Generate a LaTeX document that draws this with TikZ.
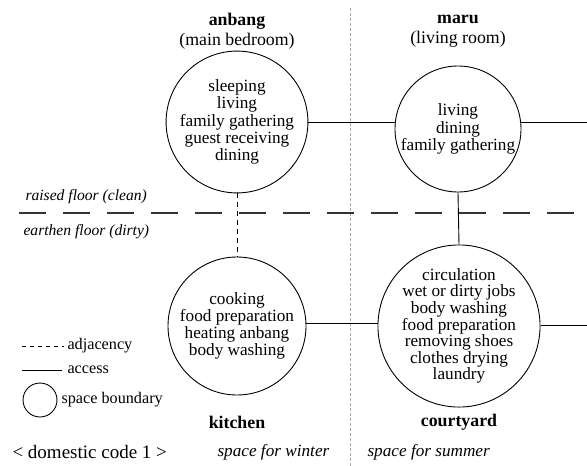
\documentclass[tikz,border=0pt]{standalone}
\usepackage{fontspec}
\setmainfont{Liberation Serif}
\begin{document}
\begin{tikzpicture}[x=1pt,y=-1pt,
  room/.style={draw,circle,line width=0.9pt,inner sep=0pt,align=center,font=\fontsize{17.2}{17.2}\selectfont},
  lbl/.style={align=center,font=\fontsize{17.8}{20}\selectfont},
  txt/.style={anchor=west,font=\fontsize{16.2}{17}\selectfont},
  acc/.style={line width=0.9pt},
  adj/.style={line width=0.9pt,dash pattern=on 5pt off 4pt}]
\useasboundingbox (0,0) rectangle (587,466);
% season divider
\draw[gray!70,dash pattern=on 3pt off 2pt,line width=0.5pt] (350,8) -- (350,466);
% floor divider
\draw[line width=2.8pt,dash pattern=on 27pt off 17pt,gray!40!black] (19,213) -- (587,213);
% rooms
\node[room,minimum size=134pt] (anbang) at (237,122) {sleeping\\living\\family gathering\\guest receiving\\dining};
\node[room,minimum size=126pt] (maru) at (458,129) {living\\dining\\family gathering};
\node[room,minimum size=138pt] (kitchen) at (237,326) {cooking\\food preparation\\heating anbang\\body washing};
\node[room,minimum size=160pt,font=\fontsize{17.2}{16.6}\selectfont] (court) at (459,326) {circulation\\wet or dirty jobs\\body washing\\food preparation\\removing shoes\\clothes drying\\laundry};
\coordinate (e1) at (587,122);
\coordinate (e2) at (587,325);
% connectors
\draw[acc] (anbang.east |- 0,122) -- (maru.west |- 0,122);
\draw[acc] (maru.east |- 0,122) -- (e1);
\draw[adj] (anbang.south) -- (kitchen.north);
\draw[acc] (maru.south) -- (court.north);
\draw[acc] (kitchen.east |- 0,323) -- (court.west |- 0,323);
\draw[acc] (court.east |- 0,325) -- (e2);
% titles
\node[lbl] (t1) at (237,31) {\textbf{anbang}\\(main bedroom)};
\node[lbl] (t2) at (458,31) {\textbf{maru}\\(living room)};
\node[lbl] (t3) at (237,422) {\textbf{kitchen}};
\node[lbl] (t4) at (459,422) {\textbf{courtyard}};
% floor labels
\node[txt,font=\fontsize{15.6}{17}\selectfont] (f1) at (22,197) {\textit{raised floor (clean)}};
\node[txt,font=\fontsize{15.6}{17}\selectfont] (f2) at (20,232) {\textit{earthen floor (dirty)}};
% bottom
\node[txt,font=\fontsize{19}{20}\selectfont] (c1) at (9,452) {< domestic code 1 >};
\node[txt,font=\fontsize{17.2}{18}\selectfont] (s1) at (214,452) {\textit{space for winter}};
\node[txt,font=\fontsize{17.2}{18}\selectfont] (s2) at (364,452) {\textit{space for summer}};
% legend
\coordinate (la1) at (22,346); \coordinate (la2) at (64,346);
\draw[adj,dash pattern=on 4pt off 4pt] (la1) -- (la2);
\node[txt] (l1) at (64,346) {adjacency};
\coordinate (lb1) at (22,370); \coordinate (lb2) at (62,370);
\draw[acc] (lb1) -- (lb2);
\node[txt] (l2) at (64,370) {access};
\node[draw,circle,minimum size=34pt,line width=0.9pt] (lc) at (40,400) {};
\node[txt] (l3) at (58,400) {space boundary};
\end{tikzpicture}
\end{document}
